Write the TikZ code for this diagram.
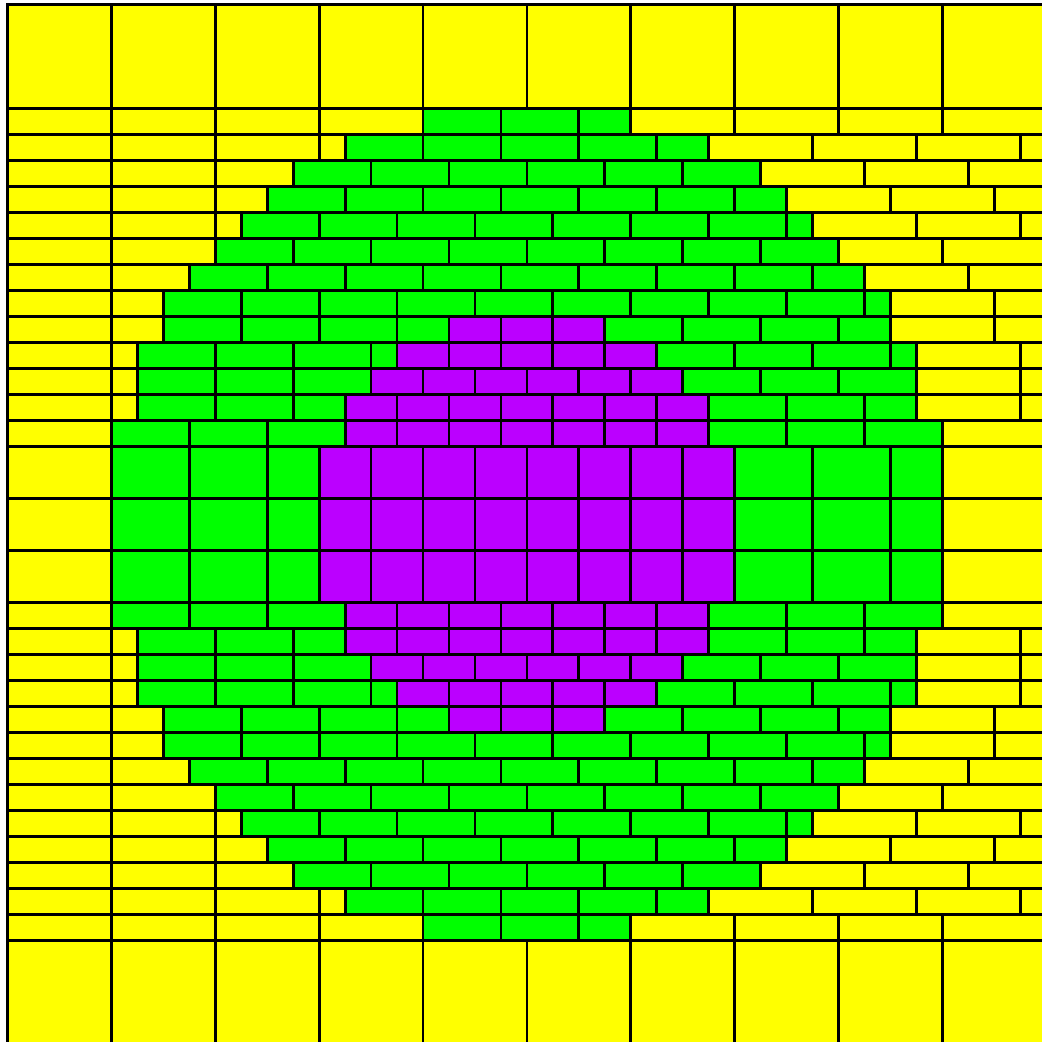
\documentclass[tikz,border=0pt]{standalone}
\definecolor{ylw}{RGB}{255,255,0}
\definecolor{grn}{RGB}{0,255,0}
\definecolor{prp}{RGB}{187,0,255}
\tikzset{cell/.style={draw=black,line width=1.4pt,line join=miter}}
\newcommand\brickseg[6]{%
  \pgfmathtruncatemacro\nbk{ceil((#4-#3)/#5-0.01)-1}%
  \foreach \k in {0,...,\nbk}{%
    \pgfmathsetmacro\xa{#3+\k*#5}%
    \pgfmathsetmacro\xb{min(#3+(\k+1)*#5,#4)}%
    \filldraw[cell,fill=#6] (\xa,#1) rectangle (\xb,#2);
  }%
}
\newcommand\mrow[6]{%
  \brickseg{#1}{#2}{0}{#3}{4}{ylw}%
  \ifdim #4pt<#5pt
    \brickseg{#1}{#2}{#3}{#4}{3}{grn}%
    \brickseg{#1}{#2}{#4}{#5}{2}{prp}%
    \brickseg{#1}{#2}{#5}{#6}{3}{grn}%
  \else
    \brickseg{#1}{#2}{#3}{#6}{3}{grn}%
  \fi
  \brickseg{#1}{#2}{#6}{40}{4}{ylw}%
}
\begin{document}
\begin{tikzpicture}[x=12.985pt,y=-13pt]
\useasboundingbox (-0.2888,-0.1731) rectangle (39.835,39.9038);
\fill[white] (-0.2888,-0.1731) rectangle (39.835,39.9038);
% top and bottom yellow bands
\brickseg{0}{4}{0}{40}{4}{ylw}
\brickseg{36}{40}{0}{40}{4}{ylw}
% quarter-height rows, mirrored about the centre
\foreach \Ri/\Ra/\Rb/\Rc/\Rd in {1/16/20/20/24, 2/13/20/20/27, 3/11/20/20/29,
  4/10/20/20/30, 5/9/20/20/31, 6/8/20/20/32, 7/7/20/20/33, 8/6/20/20/34,
  9/6/17/23/34, 10/5/15/25/35, 11/5/14/26/35, 12/5/13/27/35, 13/4/13/27/36}{
  \pgfmathtruncatemacro\ya{3+\Ri}\pgfmathtruncatemacro\yb{4+\Ri}
  \mrow{\ya}{\yb}{\Ra}{\Rb}{\Rc}{\Rd}
  \pgfmathtruncatemacro\ya{36-\Ri}\pgfmathtruncatemacro\yb{37-\Ri}
  \mrow{\ya}{\yb}{\Ra}{\Rb}{\Rc}{\Rd}
}
% half-height rows in the middle
\mrow{17}{19}{4}{12}{28}{36}
\mrow{19}{21}{4}{12}{28}{36}
\mrow{21}{23}{4}{12}{28}{36}
\end{tikzpicture}
\end{document}
